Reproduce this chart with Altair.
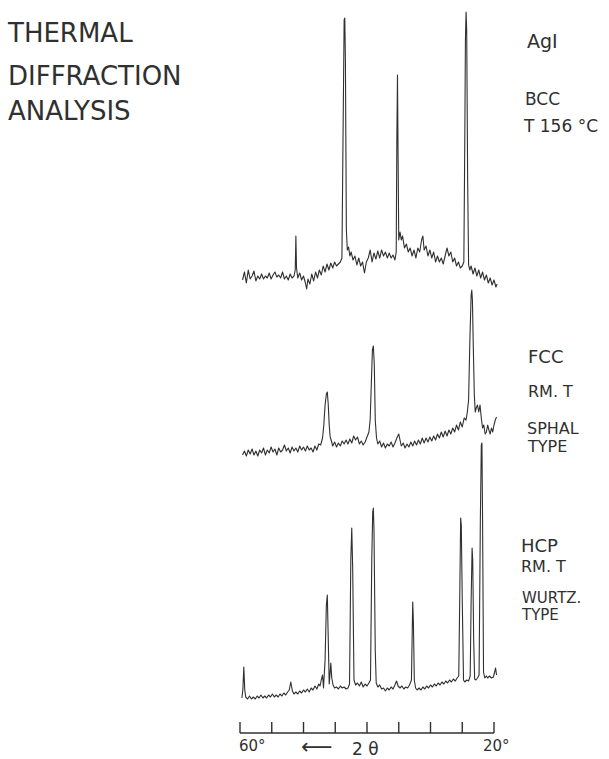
import altair as alt
import pandas as pd

# ---- data (2-theta in degrees, intensity in arbitrary counts) ----
bcc_theta = [59.6, 59.3, 59.0, 58.7, 58.4, 58.1, 57.8, 57.5, 57.2, 56.9, 56.6, 56.3, 56.0, 55.7,
             55.4, 55.1, 54.8, 54.5, 54.2, 53.9, 53.6, 53.3, 53.0, 52.7, 52.4, 52.1, 51.8, 51.5,
             51.3, 51.2, 51.1, 50.9, 50.6, 50.3, 50.0, 49.7, 49.5, 49.3, 49.0, 48.7, 48.4, 48.1,
             47.8, 47.5, 47.2, 46.9, 46.6, 46.3, 46.0, 45.7, 45.4, 45.1, 44.8, 44.5, 44.2, 43.95,
             43.75, 43.6, 43.5, 43.4, 43.25, 43.1, 42.9, 42.7, 42.5, 42.2, 41.9, 41.6, 41.3, 41.0,
             40.7, 40.4, 40.1, 39.8, 39.5, 39.2, 38.9, 38.6, 38.3, 38.0, 37.7, 37.4, 37.1, 36.8,
             36.5, 36.2, 35.9, 35.6, 35.4, 35.3, 35.2, 35.1, 35.0, 34.8, 34.6, 34.4, 34.1, 33.8,
             33.5, 33.2, 32.9, 32.6, 32.3, 32.0, 31.7, 31.4, 31.2, 31.0, 30.7, 30.4, 30.1, 29.8,
             29.5, 29.2, 28.9, 28.6, 28.3, 28.0, 27.7, 27.4, 27.1, 26.8, 26.5, 26.2, 25.9, 25.6,
             25.3, 25.0, 24.75, 24.6, 24.5, 24.4, 24.3, 24.15, 24.0, 23.8, 23.6, 23.3, 23.0, 22.7,
             22.4, 22.1, 21.8, 21.5, 21.2, 20.9, 20.6, 20.3, 20.0, 19.7, 19.5]
bcc_counts = [13, 21, 10, 23, 14, 17, 22, 12, 17, 14, 19, 14, 17, 15,
              20, 14, 18, 21, 16, 18, 15, 21, 14, 17, 13, 19, 15, 17,
              23, 57, 25, 15, 20, 13, 17, 10, 4, 14, 9, 19, 12, 21,
              15, 23, 18, 27, 21, 29, 23, 30, 25, 31, 27, 29, 31, 35,
              173, 273, 275, 233, 63, 43, 46, 37, 41, 33, 37, 28, 35, 27,
              31, 20, 31, 35, 43, 31, 40, 34, 42, 35, 43, 37, 41, 35,
              40, 35, 38, 33, 41, 153, 218, 133, 53, 61, 53, 57, 45, 49,
              41, 45, 37, 43, 35, 45, 41, 53, 57, 43, 47, 37, 43, 35,
              41, 31, 37, 31, 35, 29, 37, 45, 37, 41, 31, 35, 27, 31,
              25, 27, 31, 153, 253, 281, 263, 113, 28, 23, 27, 19, 25, 17,
              23, 15, 21, 13, 18, 10, 15, 8, 13, 6, 9]

fcc_theta = [59.6, 59.3, 59.0, 58.7, 58.4, 58.1, 57.8, 57.5, 57.2, 56.9, 56.6, 56.3, 56.0, 55.7,
             55.4, 55.1, 54.8, 54.5, 54.2, 53.9, 53.6, 53.3, 53.0, 52.7, 52.4, 52.1, 51.8, 51.5,
             51.2, 50.9, 50.6, 50.3, 50.0, 49.7, 49.4, 49.1, 48.8, 48.5, 48.2, 47.9, 47.6, 47.3,
             47.0, 46.8, 46.6, 46.4, 46.25, 46.1, 45.95, 45.8, 45.6, 45.4, 45.1, 44.8, 44.5, 44.2,
             43.9, 43.6, 43.3, 43.0, 42.7, 42.4, 42.1, 41.8, 41.5, 41.2, 40.9, 40.6, 40.3, 40.0,
             39.7, 39.5, 39.3, 39.15, 39.0, 38.85, 38.7, 38.5, 38.3, 38.0, 37.7, 37.4, 37.1, 36.8,
             36.5, 36.2, 35.9, 35.6, 35.3, 35.0, 34.8, 34.6, 34.3, 34.0, 33.7, 33.4, 33.1, 32.8,
             32.5, 32.2, 31.9, 31.6, 31.3, 31.0, 30.7, 30.4, 30.1, 29.8, 29.5, 29.2, 28.9, 28.6,
             28.3, 28.0, 27.7, 27.4, 27.1, 26.8, 26.5, 26.2, 25.9, 25.6, 25.3, 25.0, 24.7, 24.4,
             24.2, 24.0, 23.8, 23.6, 23.5, 23.4, 23.25, 23.1, 22.95, 22.8, 22.6, 22.4, 22.2, 22.0,
             21.8, 21.6, 21.4, 21.2, 21.0, 20.8, 20.6, 20.4, 20.2, 20.0, 19.8, 19.6]
fcc_counts = [8, 12, 7, 13, 9, 14, 8, 12, 7, 13, 10, 15, 8, 13,
              10, 16, 11, 14, 8, 15, 11, 13, 18, 12, 15, 10, 16, 12,
              15, 11, 17, 13, 16, 12, 17, 13, 15, 11, 17, 13, 19, 18,
              25, 38, 58, 69, 71, 58, 38, 26, 22, 17, 21, 16, 20, 17,
              22, 19, 23, 19, 24, 20, 27, 23, 26, 19, 22, 18, 21, 26,
              31, 43, 83, 113, 117, 98, 43, 25, 19, 22, 16, 20, 15, 19,
              17, 21, 16, 20, 25, 29, 23, 17, 20, 15, 19, 16, 21, 17,
              22, 18, 23, 19, 25, 20, 25, 21, 26, 22, 27, 23, 29, 25,
              31, 26, 32, 27, 33, 29, 35, 31, 38, 33, 41, 36, 45, 43,
              51, 63, 123, 168, 173, 163, 113, 68, 51, 55, 58, 51, 58, 45,
              35, 38, 29, 31, 38, 33, 29, 35, 31, 38, 43, 46]

hcp_theta = [59.7, 59.55, 59.4, 59.25, 59.1, 58.8, 58.5, 58.2, 57.9, 57.6, 57.3, 57.0, 56.7, 56.4,
             56.1, 55.8, 55.5, 55.2, 54.9, 54.6, 54.3, 54.0, 53.7, 53.4, 53.1, 52.8, 52.5, 52.25,
             52.0, 51.75, 51.5, 51.2, 50.9, 50.6, 50.3, 50.0, 49.7, 49.4, 49.1, 48.8, 48.5, 48.2,
             47.9, 47.6, 47.4, 47.2, 47.0, 46.85, 46.6, 46.4, 46.25, 46.1, 45.95, 45.8, 45.7, 45.55,
             45.35, 45.1, 44.8, 44.5, 44.2, 43.9, 43.6, 43.3, 43.0, 42.75, 42.55, 42.4, 42.25, 42.05,
             41.8, 41.5, 41.2, 40.9, 40.6, 40.3, 40.0, 39.7, 39.45, 39.25, 39.1, 39.0, 38.9, 38.7,
             38.55, 38.3, 38.0, 37.7, 37.4, 37.1, 36.8, 36.5, 36.2, 35.9, 35.6, 35.35, 35.1, 34.8,
             34.5, 34.2, 33.9, 33.6, 33.3, 33.0, 32.9, 32.8, 32.7, 32.55, 32.35, 32.1, 31.8, 31.5,
             31.2, 30.9, 30.6, 30.3, 30.0, 29.7, 29.4, 29.1, 28.8, 28.5, 28.2, 27.9, 27.6, 27.3,
             27.0, 26.7, 26.4, 26.1, 25.8, 25.55, 25.4, 25.25, 25.15, 25.0, 24.8, 24.6, 24.3, 24.0,
             23.75, 23.6, 23.45, 23.35, 23.2, 23.05, 22.85, 22.6, 22.35, 22.15, 22.0, 21.9, 21.8, 21.65,
             21.45, 21.2, 21.0, 20.7, 20.4, 20.1, 19.9, 19.75, 19.6]
hcp_counts = [5, 13, 36, 13, 6, 4, 7, 4, 6, 4, 7, 5, 8, 5,
              7, 5, 8, 6, 9, 6, 8, 6, 9, 7, 10, 8, 11, 13,
              21, 12, 9, 11, 9, 12, 10, 13, 11, 14, 11, 15, 13, 17,
              14, 19, 17, 23, 28, 15, 43, 98, 108, 63, 19, 31, 40, 25,
              18, 15, 16, 14, 17, 15, 16, 14, 15, 19, 143, 175, 133, 23,
              18, 20, 17, 21, 16, 19, 17, 20, 23, 143, 191, 195, 173, 53,
              20, 16, 18, 14, 15, 12, 15, 13, 16, 14, 18, 22, 17, 15,
              17, 14, 16, 15, 18, 23, 63, 101, 83, 23, 15, 13, 15, 13,
              16, 14, 17, 15, 18, 16, 19, 17, 20, 18, 21, 19, 22, 20,
              23, 21, 24, 22, 25, 27, 103, 185, 178, 103, 23, 21, 23, 22,
              27, 103, 155, 143, 63, 24, 23, 25, 28, 183, 258, 260, 183, 31,
              25, 27, 25, 27, 25, 26, 31, 35, 28]

# vertical offsets of the three stacked traces (counts)
offsets = {"BCC": 440, "FCC": 270, "HCP": 30}

tick_theta = [60, 55, 50, 45, 40, 35, 30, 25, 20]
axis_label_theta = [60, 20]
axis_label_text = ["60°", "20°"]

title_lines = ["THERMAL", "DIFFRACTION", "ANALYSIS"]

# ---- build tables ----
rows = []
for name, th, ct in [("BCC", bcc_theta, bcc_counts), ("FCC", fcc_theta, fcc_counts),
                     ("HCP", hcp_theta, hcp_counts)]:
    for i, (t, c) in enumerate(zip(th, ct)):
        rows.append({"trace": name, "idx": i, "theta": t, "level": c + offsets[name]})
traces = pd.DataFrame(rows)

ink = "#303030"
font = "DejaVu Sans"

xs = alt.Scale(domain=[20, 60], reverse=True, nice=False, zero=False)
ys = alt.Scale(domain=[0, 733], nice=False, zero=False)

lines = alt.Chart(traces).mark_line(strokeWidth=1.1, color=ink, strokeJoin="round").encode(
    x=alt.X("theta:Q", scale=xs, axis=None),
    y=alt.Y("level:Q", scale=ys, axis=None),
    detail="trace:N",
    order="idx:Q",
)

axis_df = pd.DataFrame({"a": [60], "b": [20], "y": [0]})
axis_line = alt.Chart(axis_df).mark_rule(strokeWidth=1.6, color=ink).encode(
    x=alt.X("a:Q", scale=xs, axis=None),
    x2="b:Q",
    y=alt.Y("y:Q", scale=ys, axis=None),
)

ticks_df = pd.DataFrame({"theta": tick_theta, "y0": [0] * len(tick_theta),
                         "y1": [11] * len(tick_theta)})
ticks = alt.Chart(ticks_df).mark_rule(strokeWidth=1.4, color=ink).encode(
    x=alt.X("theta:Q", scale=xs, axis=None),
    y=alt.Y("y0:Q", scale=ys, axis=None),
    y2="y1:Q",
)

ax_lab_df = pd.DataFrame({"theta": axis_label_theta, "txt": axis_label_text})
ax_lab_60 = alt.Chart(ax_lab_df[ax_lab_df.theta == 60]).mark_text(
    font=font, fontSize=15, color=ink, align="left", baseline="alphabetic", dx=-1
).encode(x=alt.X("theta:Q", scale=xs, axis=None), y=alt.value(751), text="txt:N")
ax_lab_20 = alt.Chart(ax_lab_df[ax_lab_df.theta == 20]).mark_text(
    font=font, fontSize=15, color=ink, align="left", baseline="alphabetic", dx=-11
).encode(x=alt.X("theta:Q", scale=xs, axis=None), y=alt.value(751), text="txt:N")


def label(txt, x, y, size, align="left"):
    return alt.Chart(alt.Data(values=[{}])).mark_text(
        font=font, fontSize=size, color=ink, align=align, baseline="alphabetic"
    ).encode(x=alt.value(x - 240), y=alt.value(y), text=alt.value(txt))


texts = [
    label(title_lines[0], 8, 42, 26),
    label(title_lines[1], 8, 85, 26),
    label(title_lines[2], 8, 120, 26),
    label("AgI", 527, 48, 19),
    label("BCC", 525, 105, 17),
    label("T  156 °C", 524, 132, 17),
    label("FCC", 528, 363, 18),
    label("RM.  T", 528, 397, 16),
    label("SPHAL", 527, 434, 16),
    label("TYPE", 528, 452, 16),
    label("HCP", 521, 552, 18),
    label("RM. T", 521, 572, 16),
    label("WURTZ.", 522, 603, 15),
    label("TYPE", 522, 620, 15),
    label("⟵", 301, 754, 22),
    label("2 θ", 352, 755, 17),
]

chart = alt.layer(lines, axis_line, ticks, ax_lab_60, ax_lab_20, *texts).properties(
    width=254,
    height=733,
    padding={"left": 240, "top": 0, "right": 115, "bottom": 26},
    autosize=alt.AutoSizeParams(type="none"),
    background="white",
).configure_view(stroke=None)

chart.save("out.html", embed_options={"renderer": "svg", "actions": False})
